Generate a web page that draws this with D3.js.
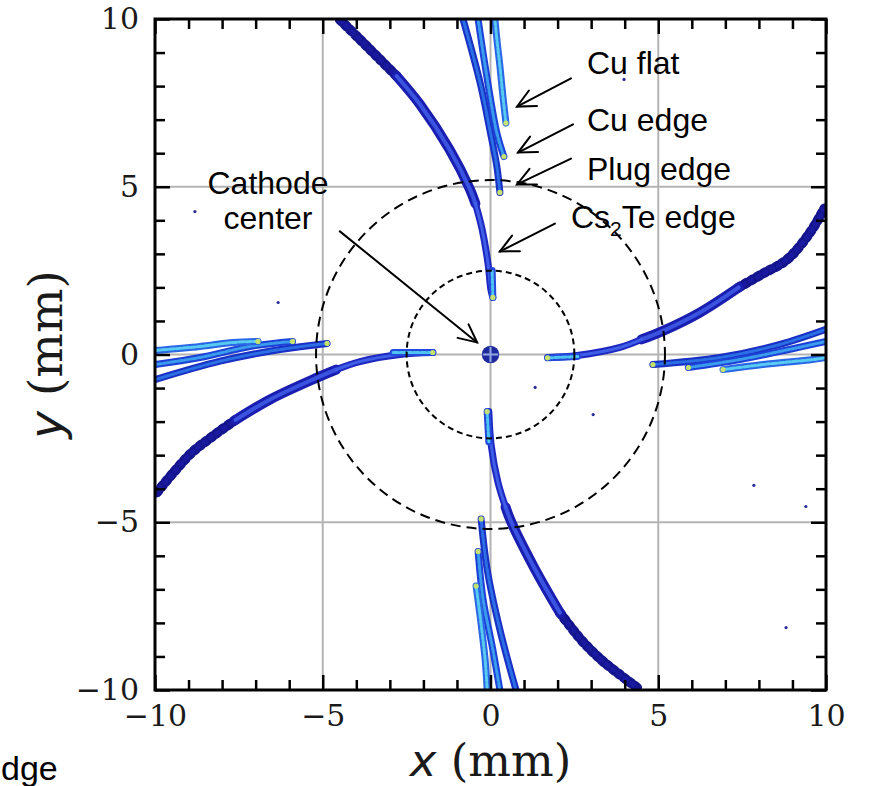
<!DOCTYPE html>
<html>
<head>
<meta charset="utf-8">
<script src="https://cdn.jsdelivr.net/npm/d3@7"></script>
<style>
  body { margin: 0; background: #fff; }
  svg { display: block; }
</style>
</head>
<body>
<script>
// Electron footprint on the cathode plane (x, y in mm)
const majorTicks = [-10, -5, 0, 5, 10];
const minorTicks = [-9, -8, -7, -6, -4, -3, -2, -1, 1, 2, 3, 4, 6, 7, 8, 9];
const gridValues = [-5, 0, 5];
const ringRadii = [2.5, 5.2];

// Long arcs: narrow part near the centre, broad middle, sparse tail towards the frame
const arcTopNear = [[0.07, 1.7], [0.01, 1.94], [-0.07, 2.68], [-0.25, 3.73], [-0.45, 4.5]];
const arcTopMid = [[-0.45, 4.5], [-0.61, 4.92], [-1.22, 6.11], [-2.10, 7.45], [-2.8, 8.3]];
const arcTopTail = [[-2.8, 8.3], [-3.29, 8.79], [-3.9, 9.4], [-4.49, 9.98]];
const arcBottomNear = [[-0.05, -1.7], [0.02, -2.7], [0.22, -3.8], [0.45, -4.55]];
const arcBottomMid = [[0.45, -4.55], [0.6, -4.95], [1.3, -6.35], [2.07, -7.7]];
const arcBottomTail = [[2.07, -7.7], [2.7, -8.5], [3.3, -9.1], [3.8, -9.5], [4.37, -9.93]];
const arcLeftNear = [[-1.72, 0.06], [-2.7, 0.0], [-3.89, -0.21], [-4.6, -0.45]];
const arcLeftMid = [[-4.6, -0.45], [-5.17, -0.69], [-6.57, -1.34], [-7.6, -1.95]];
const arcLeftTail = [[-7.6, -1.95], [-8.3, -2.45], [-8.96, -2.98], [-9.94, -4.11]];
const arcRightNear = [[1.71, -0.09], [2.58, -0.03], [3.86, 0.21], [4.5, 0.45]];
const arcRightMid = [[4.5, 0.45], [5.11, 0.69], [6.24, 1.25], [7.4, 2.0]];
const arcRightTail = [[7.4, 2.0], [8.1, 2.4], [8.84, 2.83], [9.5, 3.6], [9.95, 4.35]];

// Short bright segments on the axes (Cs2Te edge), tip first
const csTop = [[0.07, 1.7], [0.05, 2.5]];
const csBottom = [[-0.1, -1.7], [-0.05, -2.6]];
const csLeft = [[-1.72, 0.06], [-2.9, 0.06]];
const csRight = [[1.7, -0.1], [2.6, -0.06]];

// Edge traces, tip first: Cu flat, Cu edge, plug edge for each direction
const topFlat = [[0.46, 6.9], [0.37, 7.7], [0.28, 8.6], [0.2, 9.3], [0.13, 10]];
const topCuEdge = [[0.4, 5.9], [0.19, 6.6], [-0.16, 8.6], [-0.37, 10]];
const topPlug = [[0.28, 4.83], [0.19, 5.6], [0.0, 6.6], [-0.31, 8.1], [-0.82, 10]];
const bottomFlat = [[-0.43, -6.9], [-0.31, -7.8], [-0.16, -9.1], [-0.1, -10]];
const bottomCuEdge = [[-0.37, -5.87], [-0.22, -7.3], [0.07, -8.8], [0.28, -10]];
const bottomPlug = [[-0.28, -4.9], [-0.1, -6.4], [0.28, -8.2], [0.76, -10]];
const leftFlat = [[-6.93, 0.39], [-7.68, 0.36], [-8.66, 0.24], [-10, 0.12]];
const leftCuEdge = [[-5.9, 0.39], [-7.17, 0.24], [-8.66, -0.09], [-10, -0.3]];
const leftPlug = [[-4.87, 0.33], [-6.27, 0.15], [-8.06, -0.2], [-10, -0.75]];
const rightFlat = [[6.93, -0.45], [8.12, -0.3], [9.6, -0.15], [10, -0.09]];
const rightCuEdge = [[5.9, -0.39], [7.43, -0.15], [8.9, 0.15], [10, 0.39]];
const rightPlug = [[4.84, -0.3], [6.84, -0.09], [8.63, 0.3], [10, 0.75]];

// Isolated hits and the centre spot
const strayPoints = [[-8.81, 4.26], [3.98, 8.2], [1.33, -0.98], [3.06, -1.79], [7.85, -3.9], [9.4, -4.53], [8.81, -8.14], [-6.33, 1.55]];
const centerSpot = [0, 0];
const centerSpotRadius = 0.26;

// Annotations: label lines and arrow (tail -> tip) in mm
const annotationLabels = ["Cu flat", "Cu edge", "Plug edge", "Cs2Te edge", "Cathode center", "dge"];
const arrowTails = [[2.40, 8.23], [2.46, 6.86], [2.40, 5.84], [1.92, 3.90], [-4.49, 3.67]];
const arrowTips = [[0.79, 7.39], [0.82, 6.02], [0.79, 5.07], [0.28, 3.07], [-0.40, 0.36]];

const W = 871, H = 786;
const svg = d3.select("body").append("svg").attr("width", W).attr("height", H);

const x = d3.scaleLinear().domain([-10, 10]).range([155, 826]);
const y = d3.scaleLinear().domain([-10, 10]).range([690, 19]);
const k = x(1) - x(0);

const serif = "DejaVu Serif";
const sans = "Liberation Sans, Arial, sans-serif";

const plot = svg.append("g");
svg.append("defs").append("clipPath").attr("id", "clip")
  .append("rect").attr("x", x(-10)).attr("y", y(10)).attr("width", x(10) - x(-10)).attr("height", y(-10) - y(10));
const data = plot.append("g").attr("clip-path", "url(#clip)");

// grid
const grid = data.append("g").attr("stroke", "#b4b4b4").attr("stroke-width", 2);
grid.selectAll(".gv").data(gridValues).join("line")
  .attr("x1", d => x(d)).attr("x2", d => x(d)).attr("y1", y(10)).attr("y2", y(-10));
grid.selectAll(".gh").data(gridValues).join("line")
  .attr("y1", d => y(d)).attr("y2", d => y(d)).attr("x1", x(-10)).attr("x2", x(10));

const line = d3.line().x(d => x(d[0])).y(d => y(d[1])).curve(d3.curveCatmullRom.alpha(0.5));

// long arcs
const arcs = [
  [arcTopNear, arcTopMid, arcTopTail], [arcBottomNear, arcBottomMid, arcBottomTail],
  [arcLeftNear, arcLeftMid, arcLeftTail], [arcRightNear, arcRightMid, arcRightTail]
];
const arcG = data.append("g").attr("fill", "none").attr("stroke-linecap", "round");
arcs.forEach(([near, mid, tail]) => {
  arcG.append("path").attr("d", line(tail)).attr("stroke", "#14148c")
    .attr("stroke-width", 10).attr("stroke-dasharray", "3 4");
  arcG.append("path").attr("d", line(tail)).attr("stroke", "#1a1aa0")
    .attr("stroke-width", 5).attr("stroke-dasharray", "2 6").attr("stroke-dashoffset", 3);
  arcG.append("path").attr("d", line(mid)).attr("stroke", "#1a1eb0").attr("stroke-width", 10);
  arcG.append("path").attr("d", line(near)).attr("stroke", "#1e28c0").attr("stroke-width", 7);
  arcG.append("path").attr("d", line(mid)).attr("stroke", "#3a54e0").attr("stroke-width", 4);
  arcG.append("path").attr("d", line(near)).attr("stroke", "#3e5ee6").attr("stroke-width", 3);
});

// edge traces
function trace(pts, outer, inner) {
  const g = data.append("g").attr("fill", "none").attr("stroke-linecap", "round").attr("stroke-linejoin", "round");
  g.append("path").attr("d", line(pts)).attr("stroke", outer).attr("stroke-width", 7);
  g.append("path").attr("d", line(pts)).attr("stroke", inner).attr("stroke-width", 3)
    .attr("stroke-dasharray", "5 2");
  data.append("circle").attr("cx", x(pts[0][0])).attr("cy", y(pts[0][1])).attr("r", 2.6)
    .attr("fill", "#c6e26e");
}
[topPlug, bottomPlug, leftPlug, rightPlug].forEach(p => trace(p, "#1a30c4", "#2a70e4"));
[topCuEdge, bottomCuEdge, leftCuEdge, rightCuEdge].forEach(p => trace(p, "#1d40d8", "#3a9cec"));
[topFlat, bottomFlat, leftFlat, rightFlat].forEach(p => trace(p, "#2a66e6", "#58ccf0"));
[csTop, csBottom, csLeft, csRight].forEach(p => trace(p, "#2448dc", "#4ec4f0"));

// stray hits
data.append("g").selectAll("circle").data(strayPoints).join("circle")
  .attr("cx", d => x(d[0])).attr("cy", d => y(d[1])).attr("r", 1.6).attr("fill", "#2a2a9a");

// centre spot with the grid cross showing through
data.append("circle").attr("cx", x(centerSpot[0])).attr("cy", y(centerSpot[1]))
  .attr("r", centerSpotRadius * k).attr("fill", "#1c2a9e");
data.append("g").attr("stroke", "#8ea2e0").attr("stroke-width", 2.2)
  .call(g => {
    g.append("line").attr("x1", x(centerSpot[0]) - centerSpotRadius * k + 1).attr("x2", x(centerSpot[0]) + centerSpotRadius * k - 1)
      .attr("y1", y(centerSpot[1])).attr("y2", y(centerSpot[1]));
    g.append("line").attr("y1", y(centerSpot[1]) - centerSpotRadius * k + 1).attr("y2", y(centerSpot[1]) + centerSpotRadius * k - 1)
      .attr("x1", x(centerSpot[0])).attr("x2", x(centerSpot[0]));
  });

// dashed rings
data.append("g").selectAll("circle").data(ringRadii).join("circle")
  .attr("cx", x(0)).attr("cy", y(0)).attr("r", d => d * k)
  .attr("fill", "none").attr("stroke", "#000").attr("stroke-width", 2)
  .attr("stroke-dasharray", (d, i) => i === 0 ? "6 4" : "10 6");

// axes: major + minor ticks on all four sides, pointing inward
function styleAxis(g, labels) {
  g.select(".domain").remove();
  g.selectAll(".tick line").attr("stroke", "#000").attr("stroke-width", 2.5);
  g.selectAll(".tick text").attr("font-family", serif).attr("font-size", 30).attr("fill", "#1a1a1a");
  if (!labels) g.selectAll(".tick text").remove();
}
const fmt = d3.format("");
svg.append("g").attr("transform", `translate(0,${y(-10)})`)
  .call(d3.axisBottom(x).tickValues(majorTicks).tickSize(-15).tickPadding(15).tickFormat(fmt)).call(g => styleAxis(g, true));
svg.append("g").attr("transform", `translate(${x(-10)},0)`)
  .call(d3.axisLeft(y).tickValues(majorTicks).tickSize(-15).tickPadding(16).tickFormat(fmt)).call(g => styleAxis(g, true));
svg.append("g").attr("transform", `translate(0,${y(10)})`)
  .call(d3.axisTop(x).tickValues(majorTicks).tickSize(-15)).call(g => styleAxis(g, false));
svg.append("g").attr("transform", `translate(${x(10)},0)`)
  .call(d3.axisRight(y).tickValues(majorTicks).tickSize(-15)).call(g => styleAxis(g, false));
svg.append("g").attr("transform", `translate(0,${y(-10)})`)
  .call(d3.axisBottom(x).tickValues(minorTicks).tickSize(-10)).call(g => styleAxis(g, false));
svg.append("g").attr("transform", `translate(${x(-10)},0)`)
  .call(d3.axisLeft(y).tickValues(minorTicks).tickSize(-10)).call(g => styleAxis(g, false));
svg.append("g").attr("transform", `translate(0,${y(10)})`)
  .call(d3.axisTop(x).tickValues(minorTicks).tickSize(-10)).call(g => styleAxis(g, false));
svg.append("g").attr("transform", `translate(${x(10)},0)`)
  .call(d3.axisRight(y).tickValues(minorTicks).tickSize(-10)).call(g => styleAxis(g, false));

// frame
svg.append("rect").attr("x", x(-10)).attr("y", y(10)).attr("width", x(10) - x(-10)).attr("height", y(-10) - y(10))
  .attr("fill", "none").attr("stroke", "#000").attr("stroke-width", 3);

// axis titles
const xt = svg.append("text").attr("x", x(0)).attr("y", 776).attr("text-anchor", "middle")
  .attr("font-size", 45).attr("fill", "#1a1a1a");
xt.append("tspan").attr("font-family", "DejaVu Sans").attr("font-style", "italic").text("x");
xt.append("tspan").attr("font-family", serif).text(" (mm)");
const yt = svg.append("text").attr("transform", `translate(62,${y(0)}) rotate(-90)`).attr("text-anchor", "middle")
  .attr("font-size", 47).attr("fill", "#1a1a1a");
yt.append("tspan").attr("font-family", "DejaVu Sans").attr("font-style", "italic").text("y");
yt.append("tspan").attr("font-family", serif).text(" (mm)");

// annotation labels
const ann = svg.append("g").attr("font-family", sans).attr("font-size", 32).attr("fill", "#000");
ann.append("text").attr("x", 587).attr("y", 74).text(annotationLabels[0]);
ann.append("text").attr("x", 587).attr("y", 131).text(annotationLabels[1]);
ann.append("text").attr("x", 587).attr("y", 180).text(annotationLabels[2]);
const cs = ann.append("text").attr("x", 571).attr("y", 228);
cs.append("tspan").text(annotationLabels[3].slice(0, 2));
cs.append("tspan").attr("font-size", 21).attr("dy", 8).text(annotationLabels[3].slice(2, 3));
cs.append("tspan").attr("dy", -8).text(annotationLabels[3].slice(3));
const cc = annotationLabels[4].split(" ");
ann.append("text").attr("x", 268).attr("y", 194).attr("text-anchor", "middle").text(cc[0]);
ann.append("text").attr("x", 268).attr("y", 229).attr("text-anchor", "middle").text(cc[1]);
ann.append("text").attr("x", 1).attr("y", 780).attr("font-size", 34).text(annotationLabels[5]);

// arrows with open heads
const arrows = svg.append("g").attr("stroke", "#000").attr("stroke-width", 2).attr("fill", "none")
  .attr("stroke-linecap", "round");
arrowTails.forEach((t, i) => {
  const tip = arrowTips[i];
  const x0 = x(t[0]), y0 = y(t[1]), x1 = x(tip[0]), y1 = y(tip[1]);
  const a = Math.atan2(y1 - y0, x1 - x0);
  const L = 20, h = 0.45;
  arrows.append("line").attr("x1", x0).attr("y1", y0).attr("x2", x1).attr("y2", y1);
  arrows.append("path").attr("d", d3.line()([
    [x1 - L * Math.cos(a - h), y1 - L * Math.sin(a - h)], [x1, y1],
    [x1 - L * Math.cos(a + h), y1 - L * Math.sin(a + h)]
  ]));
});
</script>
</body>
</html>
